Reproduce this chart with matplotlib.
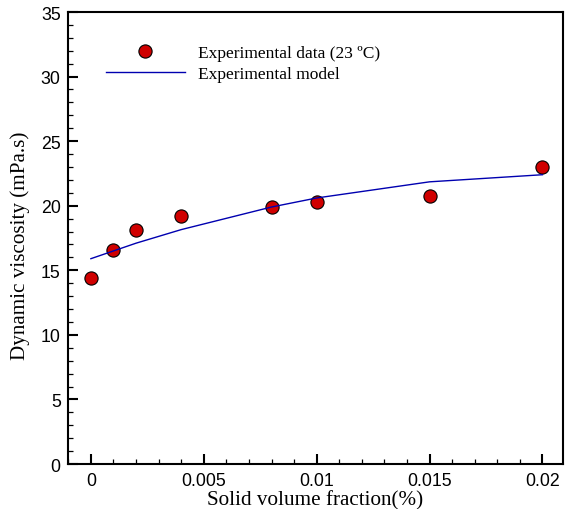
import numpy as np
from matplotlib import pyplot as plt
from matplotlib.ticker import MultipleLocator

# measured points
phi = [0, 0.001, 0.002, 0.004, 0.008, 0.01, 0.015, 0.02]
mu_exp = [14.4, 16.6, 18.1, 19.2, 19.9, 20.3, 20.75, 23.0]
# model curve
mu_model = [15.9, 16.5, 17.1, 18.15, 19.9, 20.6, 21.85, 22.4]

plt.rcParams['font.family'] = ['Liberation Serif', 'DejaVu Serif']

fig = plt.figure(figsize=(5.67, 5.10), dpi=100)
ax = fig.add_axes([0.1205, 0.0882, 0.872, 0.8863])

ax.plot(phi, mu_exp, 'o', color='#d00000', markeredgecolor='black',
        markeredgewidth=0.8, markersize=9.5, linestyle='none',
        label='Experimental data (23 \u00baC)')
ax.plot(phi, mu_model, color='#0000b0', linewidth=1.0, label='Experimental model')

ax.set_xlim(-0.001, 0.0209)
ax.set_ylim(0, 35)
ax.xaxis.set_major_locator(MultipleLocator(0.005))
ax.xaxis.set_minor_locator(MultipleLocator(0.001))
ax.yaxis.set_major_locator(MultipleLocator(5))
ax.yaxis.set_minor_locator(MultipleLocator(1))
ax.set_xticks([0, 0.005, 0.01, 0.015, 0.02])
ax.set_xticklabels(['0', '0.005', '0.01', '0.015', '0.02'])

ax.tick_params(which='both', direction='in', top=False, right=False)
ax.tick_params(which='major', length=7.2, width=1.5, pad=5.5)
ax.tick_params(which='minor', length=3.6, width=0.9)
for lab in ax.get_xticklabels() + ax.get_yticklabels():
    lab.set_family(['Liberation Sans', 'DejaVu Sans'])
    lab.set_fontsize(12.8)
for sp in ax.spines.values():
    sp.set_linewidth(1.5)

ax.set_xlabel('Solid volume fraction(%)', fontsize=15.2, labelpad=1)
ax.set_ylabel('Dynamic viscosity (mPa.s)', fontsize=15.2)
ax.yaxis.set_label_coords(-0.0775, 0.485)

ax.legend(loc='upper left', bbox_to_anchor=(0.044, 0.962), frameon=False,
          fontsize=12.5, handlelength=4.55, handletextpad=0.75,
          labelspacing=0.27, numpoints=1)

fig.savefig('out.png', dpi=100)
